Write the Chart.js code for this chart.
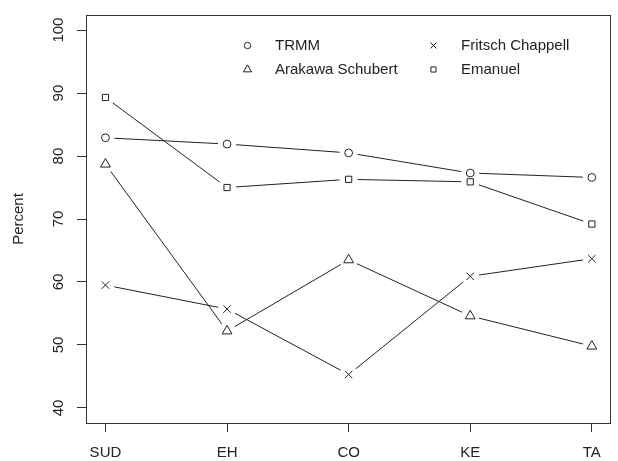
<!DOCTYPE html>
<html>
<head>
<meta charset="utf-8">
<script src="https://cdn.jsdelivr.net/npm/chart.js@4/dist/chart.umd.min.js"></script>
<style>
  html, body { margin: 0; padding: 0; background: #fff; }
  #wrap { width: 618px; height: 461px; }
</style>
</head>
<body>
<div id="wrap"><canvas id="c" width="618" height="461"></canvas></div>
<script>
// Regions along the x axis
const categories = ['SUD', 'EH', 'CO', 'KE', 'TA'];
// Percent values per scheme
const trmm     = [82.9, 81.9, 80.5, 77.3, 76.6];
const arakawa  = [78.7, 52.2, 63.5, 54.6, 49.8];
const fritsch  = [59.5, 55.7, 45.3, 60.9, 63.7];
const emanuel  = [89.3, 75.0, 76.3, 75.9, 69.2];
// Y axis tick values
const yTicks = [40, 50, 60, 70, 80, 90, 100];

const FONT = 'Liberation Sans, Arial, Helvetica, sans-serif';
const INK = '#222';

function toPoints(vals) {
  return vals.map((v, i) => ({ x: i + 1, y: v }));
}

// Lines joining the points, broken around each marker (type "b" look)
const gappedLines = {
  id: 'gappedLines',
  afterDatasetsDraw(chart) {
    const ctx = chart.ctx;
    const gap = 9;
    ctx.save();
    ctx.strokeStyle = INK;
    ctx.lineWidth = 1;
    chart.data.datasets.forEach((ds, di) => {
      const pts = chart.getDatasetMeta(di).data;
      for (let i = 0; i < pts.length - 1; i++) {
        const a = pts[i], b = pts[i + 1];
        const dx = b.x - a.x, dy = b.y - a.y;
        const len = Math.hypot(dx, dy);
        if (len <= 2 * gap) continue;
        const ux = dx / len, uy = dy / len;
        ctx.beginPath();
        ctx.moveTo(a.x + ux * gap, a.y + uy * gap);
        ctx.lineTo(b.x - ux * gap, b.y - uy * gap);
        ctx.stroke();
      }
    });
    ctx.restore();
  }
};

// Frame around the plotting region
const frameBox = {
  id: 'frameBox',
  afterDraw(chart) {
    const { left, top, right, bottom } = chart.chartArea;
    const ctx = chart.ctx;
    ctx.save();
    ctx.strokeStyle = '#333';
    ctx.lineWidth = 1;
    ctx.strokeRect(Math.round(left) + 0.5, Math.round(top) + 0.5,
                   Math.round(right - left) - 1, Math.round(bottom - top));
    ctx.restore();
  }
};

// Two-column key inside the plot, no border
const insideKey = {
  id: 'insideKey',
  afterDraw(chart) {
    const ctx = chart.ctx;
    const order = [0, 1, 2, 3];
    const colX = [247.5, 433.5];
    const rowY = [45.5, 69.5];
    ctx.save();
    ctx.font = '15px ' + FONT;
    ctx.textBaseline = 'middle';
    ctx.textAlign = 'left';
    order.forEach((di, k) => {
      const ds = chart.data.datasets[di];
      const col = Math.floor(k / 2), row = k % 2;
      const x = colX[col], y = rowY[row];
      ctx.strokeStyle = INK;
      ctx.fillStyle = 'rgba(0,0,0,0)';
      Chart.helpers.drawPoint(ctx, {
        pointStyle: ds.pointStyle,
        radius: ds.pointRadius * 0.82,
        rotation: 0,
        borderWidth: 1
      }, x, y);
      ctx.fillStyle = INK;
      ctx.fillText(ds.label, x + 27.5, y + 0.5);
    });
    ctx.restore();
  }
};

function series(label, vals, style, r) {
  return {
    label: label,
    data: toPoints(vals),
    showLine: false,
    pointStyle: style,
    pointRadius: r,
    pointHoverRadius: r,
    pointBorderWidth: 1,
    pointBorderColor: INK,
    pointBackgroundColor: 'rgba(0,0,0,0)',
    borderColor: INK,
    backgroundColor: 'rgba(0,0,0,0)'
  };
}

new Chart(document.getElementById('c'), {
  type: 'scatter',
  data: {
    datasets: [
      series('TRMM', trmm, 'circle', 3.9),
      series('Arakawa Schubert', arakawa, 'triangle', 5.7),
      series('Fritsch Chappell', fritsch, 'crossRot', 5.2),
      series('Emanuel', emanuel, 'rect', 4.4)
    ]
  },
  options: {
    responsive: false,
    animation: false,
    devicePixelRatio: 1,
    layout: { padding: { left: 0, right: 1, top: 8, bottom: 0 } },
    plugins: {
      legend: { display: false },
      tooltip: { enabled: false }
    },
    scales: {
      x: {
        type: 'linear',
        min: 0.84,
        max: 5.16,
        afterBuildTicks(scale) {
          scale.ticks = categories.map((c, i) => ({ value: i + 1 }));
        },
        afterFit(scale) { scale.height = 38; },
        ticks: {
          color: INK,
          font: { family: FONT, size: 15 },
          padding: 12,
          maxRotation: 0,
          autoSkip: false,
          callback: (v) => categories[v - 1]
        },
        grid: {
          display: true,
          drawOnChartArea: false,
          drawTicks: true,
          tickLength: 9,
          tickColor: '#333',
          tickWidth: 1
        },
        border: { display: false }
      },
      y: {
        type: 'linear',
        min: 37.6,
        max: 102.4,
        afterBuildTicks(scale) {
          scale.ticks = yTicks.map(v => ({ value: v }));
        },
        afterFit(scale) { scale.width = 86; },
        ticks: {
          color: INK,
          font: { family: FONT, size: 15 },
          padding: 6,
          minRotation: 90,
          maxRotation: 90,
          crossAlign: 'center',
          autoSkip: false
        },
        grid: {
          display: true,
          drawOnChartArea: false,
          drawTicks: true,
          tickLength: 9,
          tickColor: '#333',
          tickWidth: 1
        },
        border: { display: false },
        title: {
          display: true,
          text: 'Percent',
          color: INK,
          font: { family: FONT, size: 15 },
          padding: { top: 10, bottom: 0 }
        }
      }
    }
  },
  plugins: [gappedLines, frameBox, insideKey]
});
</script>
</body>
</html>
